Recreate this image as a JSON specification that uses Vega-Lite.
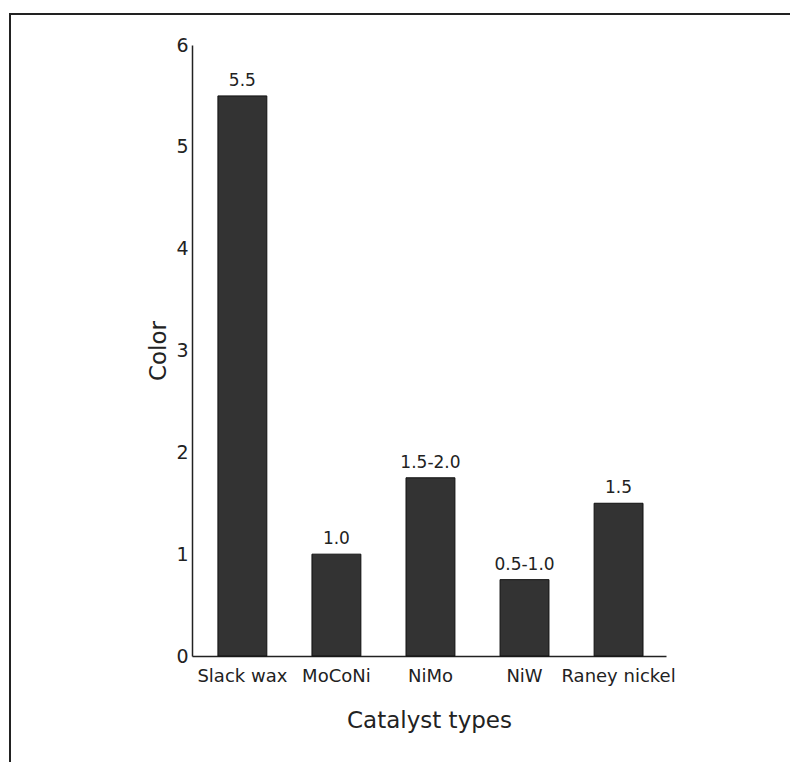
{
  "$schema": "https://vega.github.io/schema/vega-lite/v6.json",
  "width": 785,
  "height": 753,
  "autosize": {"type": "none"},
  "padding": {"left": 10, "top": 14, "right": -5, "bottom": -5},
  "background": "white",
  "config": {
    "view": {"stroke": "#222222", "strokeWidth": 2},
    "font": "DejaVu Sans"
  },
  "data": {
    "values": [
      {"catalyst": "Slack wax", "color": 5.5, "label": "5.5"},
      {"catalyst": "MoCoNi", "color": 1.0, "label": "1.0"},
      {"catalyst": "NiMo", "color": 1.75, "label": "1.5-2.0"},
      {"catalyst": "NiW", "color": 0.75, "label": "0.5-1.0"},
      {"catalyst": "Raney nickel", "color": 1.5, "label": "1.5"}
    ]
  },
  "encoding": {
    "x": {
      "field": "catalyst",
      "type": "nominal",
      "sort": null,
      "scale": {"range": [182, 656], "paddingInner": 0.48, "paddingOuter": 0.26, "align": 0.53},
      "axis": {
        "title": "Catalyst types",
        "orient": "bottom",
        "offset": -111,
        "labelAngle": 0,
        "ticks": false,
        "labelPadding": 11,
        "labelFontSize": 18,
        "labelColor": "#222222",
        "titleFontSize": 23,
        "titleFontWeight": "normal",
        "titleColor": "#222222",
        "titlePadding": 24,
        "domainColor": "#222222",
        "domainWidth": 1.5,
        "grid": false
      }
    }
  },
  "layer": [
    {
      "mark": {"type": "bar", "color": "#333333", "stroke": "#111111", "strokeWidth": 1},
      "encoding": {
        "y": {
          "field": "color",
          "type": "quantitative",
          "scale": {"domain": [0, 6], "range": [642, 31], "nice": false},
          "axis": {
            "title": "Color",
            "offset": -182,
            "values": [0, 1, 2, 3, 4, 5, 6],
            "format": "d",
            "ticks": false,
            "labelPadding": 4,
            "labelFontSize": 19,
            "labelColor": "#222222",
            "grid": false,
            "titleFontSize": 23,
            "titleFontWeight": "normal",
            "titleColor": "#222222",
            "titlePadding": 5,
            "domainColor": "#222222",
            "domainWidth": 1.5
          }
        }
      }
    },
    {
      "mark": {"type": "text", "baseline": "bottom", "dy": -6, "fontSize": 17, "color": "#222222"},
      "encoding": {
        "y": {"field": "color", "type": "quantitative"},
        "text": {"field": "label"}
      }
    }
  ]
}
